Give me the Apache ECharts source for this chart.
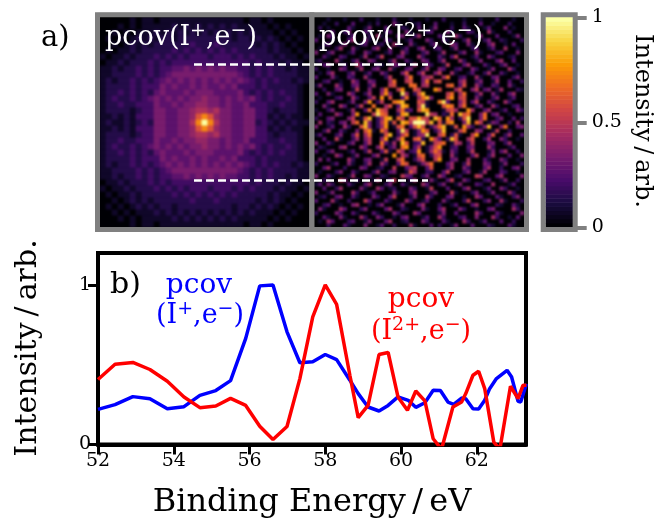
<!DOCTYPE html>
<html><head><meta charset="utf-8">
<style>html,body{margin:0;padding:0;background:#fff}
#page{position:relative;width:656px;height:522px;overflow:hidden}
#heat{position:absolute;left:97px;top:14px;width:430px;height:216px;background:#000;filter:blur(1.2px)}
#c{position:absolute;left:0;top:0;width:656px;height:522px}</style>
<script src="https://cdn.jsdelivr.net/npm/echarts@6/dist/echarts.min.js"></script>
</head><body><div id="page"><div id="heat"></div><div id="c"></div></div>
<script>
// intensity cells, hex levels
const leftRows = [
"00000101101111111111111101101000000",
"00010101111121212121212111110101000",
"00101011121212121212121212111010100",
"01010121212212222222221221212101010",
"00101212122222232223222222121210100",
"01011212222232323232323222221211010",
"10112122232323233323332323222121101",
"01121222323233333333333332322212110",
"11212232323344545454544332323221211",
"11222232323455555555555432323222211",
"12122323234545454545454543232322121",
"12222323335454454544545333232222210",
"12232323245444545554444532323232210",
"12322323454545455655454545323223210",
"12232233354454556655454453332232210",
"12222123355445567767554455332122210",
"11212133355445569b96554455331212110",
"1211212325544557bfb7554455232121211".slice(0,35),
"11212133355445569b96554455331212110",
"12222123355445567767554455332122210",
"12232233354454556655454453332232210",
"12322323454545455655454545323223210",
"12232323245444545554444532323232210",
"12222323335454454544545333232222210",
"12122323234545454545454543232322121",
"11222232323455555555555432323222211",
"11212232323344545454544332323221211",
"01121222323233333333333332322212110",
"10112122232323233323332323222121101",
"01011212222232323232323222221211010",
"00101212122222232223222222121210100",
"01010121212212222222221221212101010",
"00101011121212121212121212111010100",
"00010101111121212121212111110101000",
"00000101101111111111111101101000000"
];
const rightRows = [
"000200031000400130020005100030200140003000210003100",
"010530002300140003500120004200031000520013000300200",
"003100410005200420010340001300520002300400052001030",
"200004200310003100042000530000140030000520003100004",
"041000530002400003500210004100350004200100340000520",
"002300100450010240001400035000200130003500002100310",
"300051002000630003100052001300041000260002400510002",
"012003400310004200360001400520003400100530003100240",
"400140000520013000041003500024000610002400140005200",
"003002500004100530120004200160003000350001300420010",
"130420003100350002400310005300240014000320050001300",
"002000640020001500360002500041003600420002300140020",
"400310001500430021000643002400530012000650003500004",
"010002400310002500340017500220036000240015000320010",
"003500020004300120060035600370002500420003500200340",
"200013004100250052003870014680003500260004300140002",
"040300005200340016006800257006900340050003100420010",
"001005300140003500090640178026700510003600250003004",
"300240001300260037107502390158610420026000140350020",
"021000450005300470240890360147900230034000520001300",
"400310002400360083150a7023a0167801650260003400250000",
"003006100250460059015900782096302a700570025004200104",
"130002400370580017a02680145b00680271006900370025003",
"002500310040791086003b601497025a0016800540016002000",
"400130052007a4025901780 37a70258a017095201 4a00480034".replace(/ /g,""),
"050210340680a40269170a96fff6a07189004a0860143002050",
"2003400046017a0259a086077a760a8095027b0048002400302",
"030005300490006b870029a0000b6502180a7800480340010000",
"100240001500380a7600582307a9000167500950035001300420",
"004100530026008005703a9006b10007980580024005200023",
"200350001400490260089a000761008b300470360031005200",
"010002300520036090700380058a4000790670041002400130",
"300410005300250059400b5027a00000680580025004100350",
"002003400160040048006900760009700057004603401500021",
"140005200340025000670008805600007803700520032004100",
"002300100530043000580067004806700004600240015003002",
"300041003200510002600058004560058002300510034000240",
"010350002400130042000470036004600510013002500310010",
"200100430015003400510034002500430023004200140005200",
"003400020063000210043001500420016000350003100240010",
"120005100240043000250031004300250005200140003500300",
"003100320001500260003400052000310360001300420001200",
"400240001300420001300520002400150002400510002300040",
"010002500410003500400130035002300140002300130050010",
"002300140002300120052004100024000530041000350010300",
"300010003500410003200013000420031000250002400210002",
"010420001300020510003400250000310052000140003000140",
"000030024000310002300041000230004100032000510002000",
"020100003100140003000210030014000200310001300040100",
"001002000300010200041000120003000100200030010002000",
"000100010002000100020001000100020000100010002000100"
];
const energyBlue = [52,52.45,52.92,53.37,53.83,54.27,54.69,55.11,55.5,55.9,56.27,56.62,56.99,57.33,57.67,58,58.3,58.65,58.87,59.13,59.42,59.66,59.92,60.19,60.39,60.63,60.85,61.04,61.24,61.39,61.6,61.71,61.9,62.05,62.21,62.34,62.52,62.8,62.92,63.09,63.16,63.31];
const blueValues = [.22,.25,.30,.287,.224,.237,.308,.338,.40,.665,.994,1.0,.706,.512,.518,.564,.532,.403,.319,.235,.21,.245,.298,.277,.233,.262,.34,.338,.266,.252,.291,.287,.224,.222,.277,.35,.413,.465,.423,.27,.266,.38];
const energyRed = [52,52.45,52.92,53.37,53.83,54.27,54.69,55.11,55.5,55.9,56.27,56.62,56.99,57.33,57.67,58,58.3,58.65,58.87,59.13,59.42,59.66,59.92,60.17,60.39,60.63,60.85,61.07,61.37,61.6,61.71,61.9,62.05,62.21,62.45,62.61,62.89,63.09,63.22,63.31];
const redValues = [.407,.503,.514,.47,.396,.298,.231,.241,.289,.245,.115,.031,.113,.413,.80,1.0,.878,.434,.168,.245,.564,.577,.298,.214,.335,.273,.036,-.03,.235,.266,.319,.434,.459,.35,.015,-.03,.365,.287,.371,.371];
const xTicks = {min:52,max:63.3,interval:2};
const colorbarStep = 0.5;
const colorbarLevels = [0,.02,.04,.06,.08,.1,.12,.14,.16,.18,.2,.22,.24,.26,.28,.3,.32,.34,.36,.38,.4,.42,.44,.46,.48,.5,.52,.54,.56,.58,.6,.62,.64,.66,.68,.7,.72,.74,.76,.78,.8,.82,.84,.86,.88,.9,.92,.94,.96,.98,1];
const inferno = ['#000004','#1b0c41','#4a0c6b','#781c6d','#a52c60','#cf4446','#ed6925','#fb9b06','#f7d13d','#fcffa4'];

const serif = '"DejaVu Serif"';
const cells = (rows,n,top) => { const o=[]; rows.forEach((r,y)=>{ [...r.padEnd(n,'0').slice(0,n)].forEach((ch,x)=>o.push([x,y,Math.min(1,parseInt(ch,16)/top)])); }); return o; };
const idx = n => Array.from({length:n},(_, i)=>i);
const frame = (x,y,w,h)=>({type:'rect',z:50,shape:{x,y,width:w,height:h},style:{fill:'none',stroke:'#808080',lineWidth:5}});
const txt = (x,y,t,size,fill,rot,align)=>({type:'text',z:60,x,y,rotation:rot||0,style:{text:t,font:size+'px '+serif,fill:fill||'#000',textAlign:align||'center',textVerticalAlign:'middle'}});
const rich = (x,y,t,size,fill,align)=>({type:'text',z:60,x,y,style:{text:t,fill,textAlign:align||'center',textVerticalAlign:'middle',
  rich:{a:{fontFamily:serif,fontSize:size,fill,lineHeight:size+5},s:{fontFamily:serif,fontSize:Math.round(size*.72),fill,verticalAlign:'top',lineHeight:size+5}}}});
const dash = y=>({type:'line',z:55,shape:{x1:194,y1:y,x2:428,y2:y},style:{stroke:'#fff',lineWidth:2.5,lineDash:[8,4]}});
const hidden = (gridIndex,n)=>({type:'category',gridIndex,data:idx(n),show:false});

// the two image panels, softened by the page's CSS like the resampled original
const heat = echarts.init(document.getElementById('heat'),null,{renderer:'canvas'});
heat.setOption({
  animation:false,
  grid:[{left:3,top:3.3,width:209.5,height:210},{left:217.3,top:3.3,width:210,height:210}],
  xAxis:[hidden(0,35),hidden(1,51)],
  yAxis:[hidden(0,35),hidden(1,51)],
  visualMap:{show:false,min:0,max:1,seriesIndex:[0,1],inRange:{color:inferno}},
  series:[
    {type:'heatmap',xAxisIndex:0,yAxisIndex:0,data:cells(leftRows,35,15),progressive:0,emphasis:{disabled:true}},
    {type:'heatmap',xAxisIndex:1,yAxisIndex:1,data:cells(rightRows,51,12),progressive:0,emphasis:{disabled:true}}
  ]
});

const chart = echarts.init(document.getElementById('c'),null,{renderer:'canvas'});
chart.setOption({
  animation:false,
  backgroundColor:'transparent',
  tooltip:{show:false},
  grid:[
    {left:545.7,top:17.3,width:27,height:210},
    {left:98,top:253,width:428,height:191.5,show:true,borderColor:'#000',borderWidth:4,backgroundColor:'#fff'}
  ],
  xAxis:[
    hidden(0,1),
    {type:'value',gridIndex:1,min:xTicks.min,max:xTicks.max,interval:xTicks.interval,
      axisLine:{lineStyle:{color:'#000',width:4}},
      axisTick:{length:10,lineStyle:{color:'#000',width:3}},
      axisLabel:{fontFamily:serif,fontSize:19,color:'#000',margin:7,showMaxLabel:false},splitLine:{show:false}}
  ],
  yAxis:[
    {type:'category',gridIndex:0,data:idx(colorbarLevels.length),show:false,boundaryGap:true},
    {type:'value',gridIndex:0,position:'right',min:0,max:1,interval:colorbarStep,
      axisLine:{show:false},
      axisTick:{show:true,length:14,lineStyle:{color:'#808080',width:4}},
      axisLabel:{fontFamily:serif,fontSize:19,color:'#000',margin:19,formatter:v=>String(v)},splitLine:{show:false}},
    {type:'value',gridIndex:1,min:0,max:1.2,interval:1,
      axisLine:{lineStyle:{color:'#000',width:4}},
      axisTick:{length:10,lineStyle:{color:'#000',width:3}},
      axisLabel:{fontFamily:serif,fontSize:19,color:'#000',margin:7,showMaxLabel:false},splitLine:{show:false}}
  ],
  visualMap:{show:false,min:0,max:1,seriesIndex:0,inRange:{color:inferno}},
  series:[
    {type:'heatmap',xAxisIndex:0,yAxisIndex:0,data:colorbarLevels.map((v,i)=>[0,i,v]),progressive:0,emphasis:{disabled:true}},
    {type:'line',xAxisIndex:1,yAxisIndex:2,data:energyBlue.map((x,i)=>[x,blueValues[i]]),showSymbol:false,clip:true,lineStyle:{color:'#0000ff',width:3.5},z:5},
    {type:'line',xAxisIndex:1,yAxisIndex:2,data:energyRed.map((x,i)=>[x,redValues[i]]),showSymbol:false,clip:true,lineStyle:{color:'#ff0000',width:3.5},z:6}
  ],
  graphic:{elements:[
    frame(97.5,14.8,214.3,214.7),frame(311.8,14.8,214.7,214.7),frame(543.2,14.8,32,214.7),
    dash(64.5),dash(180.5),
    rich(105,38,'{a|pcov(I}{s|+}{a|,e}{s|−}{a|)}',27,'#fff','left'),
    rich(319,38,'{a|pcov(I}{s|2+}{a|,e}{s|−}{a|)}',27,'#fff','left'),
    txt(41,38,'a)',29,'#000',0,'left'),
    txt(110,285,'b)',30,'#000',0,'left'),
    txt(199,286,'pcov',28,'#0000ff'),
    rich(200,316,'{a|(I}{s|+}{a|,e}{s|−}{a|)}',27,'#0000ff'),
    txt(421,300,'pcov',28,'#ff0000'),
    rich(421,332,'{a|(I}{s|2+}{a|,e}{s|−}{a|)}',27,'#ff0000'),
    txt(28,348,'Intensity\u2009/\u2009arb.',30,'#000',Math.PI/2),
    txt(312,503,'Binding Energy\u2009/\u2009eV',32,'#000'),
    txt(642,121,'Intensity\u2009/\u2009arb.',24,'#000',-Math.PI/2)
  ]}
});
</script></body></html>
